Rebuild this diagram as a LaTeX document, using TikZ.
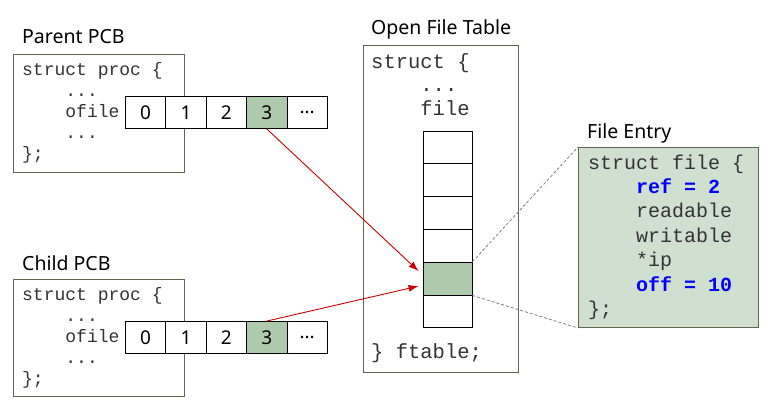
\documentclass[tikz,border=0pt]{standalone}
\usepackage{fontspec}
\setmainfont{Noto Sans}
\newfontfamily\codefont{Liberation Mono}
\usetikzlibrary{positioning,arrows.meta}

\definecolor{boxline}{RGB}{100,100,80}
\definecolor{slotgreen}{RGB}{173,203,172}
\definecolor{entrygreen}{RGB}{208,224,208}
\definecolor{ptrred}{RGB}{200,0,0}
\definecolor{codeblue}{RGB}{0,0,255}
\newcommand{\ind}{\hphantom{0000}}
\newcommand{\celldots}{...}
\newcommand{\hl}[1]{\textbf{\color{codeblue}#1}}

\tikzset{
  title/.style={anchor=west, inner sep=0pt, font=\fontsize{19.5}{23}\selectfont},
  structbox/.style={draw=boxline, line width=1pt, anchor=north west, inner sep=0pt},
  code/.style={anchor=base west, align=left, inner sep=0pt, text=black!80},
  cell/.style={draw, line width=0.9pt, minimum width=40.4pt, minimum height=32pt, inner sep=0pt, font=\fontsize{19}{22}\selectfont},
  slot/.style={draw, line width=0.9pt, minimum width=49pt, minimum height=32.8pt, inner sep=0pt},
  ptr/.style={draw=ptrred, line width=0.9pt, -{Latex[length=10pt,width=7pt]}},
  zoomline/.style={draw=gray, line width=0.8pt, dash pattern=on 3pt off 2pt}
}

\begin{document}
\begin{tikzpicture}[x=1pt,y=-1pt]
  \useasboundingbox (0,0) rectangle (774,418);
  % parent (code nodes sit on the baseline of their last line)
  \node[title] (ptitle) at (22,37) {Parent PCB};
  \node[structbox, minimum width=171pt, minimum height=118pt] (parent) at (12.7,53.5) {};
  \node[code, font=\codefont\fontsize{18}{21}\selectfont] (pcode) at (22,159) {struct proc \{\\ \ind...\\ \ind ofile\\ \ind...\\ \};};
  \foreach \lbl/\fc [count=\i from 0] in {0/white,1/white,2/white,3/slotgreen,\celldots/white}
    \node[cell, fill=\fc] (p\i) at (145.6+40.4*\i,112.5) {\lbl};
  % child
  \node[title] (ctitle) at (22,263) {Child PCB};
  \node[structbox, minimum width=171pt, minimum height=117pt] (child) at (12.7,279) {};
  \node[code, font=\codefont\fontsize{18}{21}\selectfont] (ccode) at (22,384) {struct proc \{\\ \ind...\\ \ind ofile\\ \ind...\\ \};};
  \foreach \lbl/\fc [count=\i from 0] in {0/white,1/white,2/white,3/slotgreen,\celldots/white}
    \node[cell, fill=\fc] (c\i) at (145.6+40.4*\i,337.5) {\lbl};
  % open file table
  \node[title] (ttitle) at (371,29) {Open File Table};
  \node[structbox, minimum width=155pt, minimum height=327pt] (table) at (362.7,45) {};
  \node[code, font=\codefont\fontsize{20.5}{23.5}\selectfont] (tcode) at (371,115) {struct \{\\ \ind...\\ \ind file};
  \foreach \fc [count=\i from 0] in {white,white,white,white,slotgreen,white}
    \node[slot, fill=\fc] (f\i) at (447.5,147.4+32.8*\i) {};
  \node[code, font=\codefont\fontsize{20.5}{23.5}\selectfont] (tend) at (371,358) {\} ftable;};
  % file entry
  \node[title] (etitle) at (587,133) {File Entry};
  \node[structbox, fill=entrygreen, minimum width=180pt, minimum height=180pt] (entry) at (578,147) {};
  \node[code, font=\codefont\fontsize{20}{24.4}\selectfont] (ecode) at (588,315.4) {struct file \{\\ \ind\hl{ref = 2}\\ \ind readable\\ \ind writable\\ \ind*ip\\ \ind\hl{off = 10}\\ \};};
  % pointers
  \draw[ptr] (p3.south) -- ([shift={(-4,-7.5)}]f4.west);
  \draw[ptr] (c3.north) -- ([shift={(-4,7.5)}]f4.west);
  \draw[zoomline] (f4.north east) -- (entry.north west);
  \draw[zoomline] (f4.south east) -- (entry.south west);
\end{tikzpicture}
\end{document}
